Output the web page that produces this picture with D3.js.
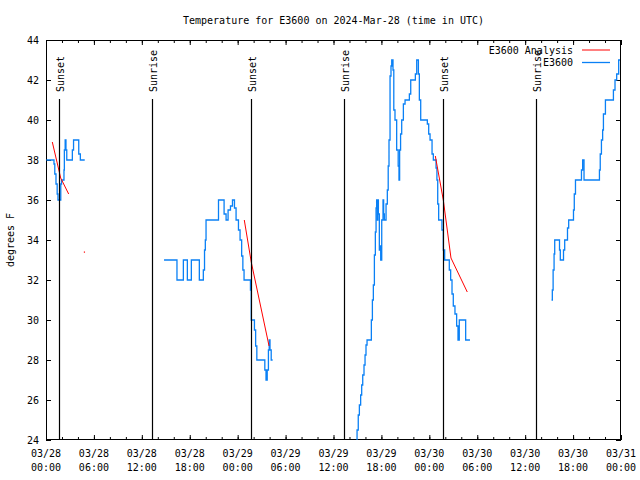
<!DOCTYPE html>
<html><head><meta charset="utf-8">
<script src="https://cdn.jsdelivr.net/npm/d3@7"></script>
<style>body{margin:0;background:#fff}svg{display:block}text{font-family:"DejaVu Sans Mono",monospace;font-size:10px;fill:#000}</style>
</head><body><svg id="c" width="640" height="480"></svg>
<script>
// ---- data (hours since 2024-03-28 00:00 UTC, deg F) ----
const title = "Temperature for E3600 on 2024-Mar-28 (time in UTC)";
const yTicks = [24,26,28,30,32,34,36,38,40,42,44];
const sunEvents = [["Sunset",1.68],["Sunrise",13.3],["Sunset",25.7],["Sunrise",37.35],["Sunset",49.75],["Sunrise",61.3]];
const blueSeg1 = [[0.05,38],[1.0,37.8],[1.1,37.3],[1.25,36.8],[1.4,36.3],[1.5,36],[1.85,36.8],[1.95,37],[2.25,37.5],[2.3,38.5],[2.4,39],[2.5,38.5],[2.6,38],[3.3,38.5],[3.45,39],[4.1,38.3],[4.3,38],[4.85,38]];
const blueSeg2 = [[14.78,33],[16.4,32],[17.2,33],[17.7,32],[18.2,33],[19.2,32],[19.7,32.5],[19.85,33.5],[19.95,34],[20.04,35],[21.6,36],[22.3,35.3],[22.55,35],[22.8,35.5],[23.1,35.7],[23.35,36],[23.6,35.6],[23.8,35],[24.1,34.5],[24.3,34],[24.5,33.2],[24.65,32.5],[24.8,32],[25.6,31.5],[25.7,30],[26.1,29.5],[26.25,28.7],[26.4,28],[27.4,27.5],[27.55,27],[27.7,27.5],[27.85,28.5],[27.95,29],[28.05,28.5],[28.2,28],[28.38,28]];
const blueSeg3 = [[38.85,23],[38.95,24.5],[39.1,25.25],[39.24,25.75],[39.4,26.25],[39.53,26.75],[39.66,27.25],[39.82,27.75],[39.95,28.25],[40.07,28.75],[40.2,29],[40.74,30],[40.87,31],[40.99,31.75],[41.12,33.25],[41.24,34.4],[41.33,35.6],[41.4,36],[41.5,35],[41.55,36],[41.62,35.3],[41.74,33.5],[41.85,33.7],[41.91,33],[42.04,35],[42.2,36],[42.28,35.3],[42.37,35],[42.58,35.8],[42.74,36.5],[42.85,37.7],[42.95,39],[43.08,42.2],[43.2,42.7],[43.29,43],[43.45,42.5],[43.55,40.5],[43.7,40],[43.91,38.5],[44.1,37.7],[44.2,37],[44.28,38.5],[44.4,39.3],[44.54,40],[44.75,40.8],[44.96,41],[45.5,41.3],[45.67,42],[46.25,42.3],[46.42,43],[46.63,42.3],[46.75,41],[46.92,40],[47.75,39.8],[47.92,39.3],[48.09,39],[48.34,38.3],[48.5,38],[48.84,37.6],[48.95,37],[49.05,35.8],[49.17,35],[49.58,34.5],[49.75,33.5],[49.92,33],[50.5,32.5],[50.67,32],[50.84,31.3],[51.0,30.7],[51.21,30.3],[51.42,29.7],[51.59,29],[51.75,30],[52.55,29],[53.09,29]];
const blueSeg4 = [[63.3,31],[63.4,31.5],[63.5,32.5],[63.62,33.3],[63.7,34],[64.3,33.5],[64.4,33],[64.8,33.5],[64.95,34],[65.3,34.6],[65.45,35],[66.05,35.5],[66.15,36.3],[66.3,37],[67.05,37.5],[67.2,38],[67.37,37],[69.3,37.5],[69.4,38.3],[69.55,39],[69.7,39.5],[69.8,40.3],[70.05,41],[71.05,41.5],[71.25,42],[71.46,42.3],[71.71,43],[71.88,43]];
const redSeg1 = [[0.79,38.9],[1.84,37.1],[2.84,36.3]];
const redSeg2 = [[24.83,35],[25.7,32.9],[27.93,28.7]];
const redSeg3 = [[48.75,38.2],[49.75,36],[50.71,33.1],[52.75,31.4]];
const redDots = [[4.8,33.4]];
const legendLabels = ["E3600 Analysis","E3600"];

const t0 = Date.UTC(2024,2,28);
const toDate = h => new Date(t0 + h*3600e3);
const svg = d3.select("#c");
const L=46,R=621,T=40,B=440;
const x = d3.scaleUtc().domain([toDate(0),toDate(72)]).range([L,R]);
const y = d3.scaleLinear().domain([24,44]).range([B,T]);

svg.append("text").attr("x",(L+R)/2).attr("y",24).attr("text-anchor","middle").text(title);

svg.append("defs").append("clipPath").attr("id","cp").append("rect").attr("x",L).attr("y",T).attr("width",R-L).attr("height",B-T);

const major = d3.utcHour.every(6).range(toDate(0),toDate(72.01));
const minor = d3.utcHour.every(2).range(toDate(0),toDate(72.01));
function xAx(g, fn, pos){
  g.attr("transform",`translate(0,${pos})`);
  g.append("g").call(fn(x).tickValues(minor).tickSize(-3).tickFormat(""));
  g.append("g").call(fn(x).tickValues(major).tickSize(-5).tickFormat(""));
}
svg.append("g").call(g=>xAx(g,d3.axisBottom,B));
svg.append("g").call(g=>xAx(g,d3.axisTop,T));
svg.append("g").attr("transform",`translate(${L},0)`).call(d3.axisLeft(y).tickValues(yTicks).tickSize(-5).tickPadding(7).tickFormat(d3.format("d")));
svg.append("g").attr("transform",`translate(${R},0)`).call(d3.axisRight(y).tickValues(yTicks).tickSize(-5).tickFormat(""));
svg.selectAll(".domain").remove();
svg.selectAll(".tick text").style("font-family",'"DejaVu Sans Mono",monospace').style("font-size","10px").attr("fill","#000");
svg.append("rect").attr("x",L+0.5).attr("y",T+0.5).attr("width",R-L-1).attr("height",B-T-1).attr("fill","none").attr("stroke","#000");

const lbl = svg.append("g");
major.forEach(d=>{
  const t = lbl.append("text").attr("x",x(d)).attr("y",457).attr("text-anchor","middle");
  t.append("tspan").attr("x",x(d)).text(d3.utcFormat("%m/%d")(d));
  t.append("tspan").attr("x",x(d)).attr("dy",14).text(d3.utcFormat("%H:%M")(d));
});

svg.append("text").attr("transform",`translate(14,240) rotate(-90)`).attr("text-anchor","middle").text("degrees F");

const data = svg.append("g").attr("clip-path","url(#cp)");
const stepLine = d3.line().x(d=>x(toDate(d[0]))).y(d=>y(d[1])).curve(d3.curveStepAfter);
const line = d3.line().x(d=>x(toDate(d[0]))).y(d=>y(d[1]));
[blueSeg1,blueSeg2,blueSeg3,blueSeg4].forEach(s=>data.append("path").attr("d",stepLine(s)).attr("fill","none").attr("stroke","#0a80f5").attr("stroke-width",1.3));
[redSeg1,redSeg2,redSeg3].forEach(s=>data.append("path").attr("d",line(s)).attr("fill","none").attr("stroke","#ff0000").attr("stroke-width",1));
data.selectAll(".rd").data(redDots).join("rect").attr("x",d=>x(toDate(d[0]))-0.5).attr("y",d=>y(d[1])-0.5).attr("width",1.2).attr("height",1.2).attr("fill","#ff0000");

sunEvents.forEach(([name,h])=>{
  const xx = Math.round(x(toDate(h)))+0.5;
  svg.append("line").attr("x1",xx).attr("x2",xx).attr("y1",99).attr("y2",B).attr("stroke","#000").attr("stroke-width",1.2);
  svg.append("text").attr("transform",`translate(${xx+4},92) rotate(-90)`).text(name);
});

const lg = svg.append("g");
const lgColors = ["#ff0000","#0a80f5"];
legendLabels.forEach((t,i)=>{
  const yy = 50 + i*12.5;
  lg.append("text").attr("x",573).attr("y",yy+3.5).attr("text-anchor","end").text(t);
  lg.append("line").attr("x1",582).attr("x2",610).attr("y1",yy).attr("y2",yy).attr("stroke",lgColors[i]).attr("stroke-width",i?1.3:1);
});
</script></body></html>
